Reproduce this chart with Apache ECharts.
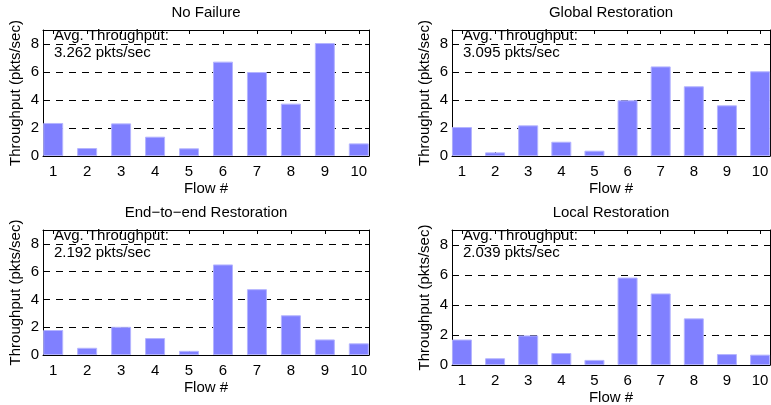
<!DOCTYPE html>
<html>
<head>
<meta charset="utf-8">
<script src="https://cdn.jsdelivr.net/npm/echarts@6/dist/echarts.min.js"></script>
<style>
  html, body { margin: 0; padding: 0; background: #fff; }
  #chart { width: 771px; height: 405px; }
</style>
</head>
<body>
<div id="chart"></div>
<script>
// Per-flow throughput (pkts/sec) under four failure-handling schemes
const flows = [1, 2, 3, 4, 5, 6, 7, 8, 9, 10];
const yTicks = [0, 2, 4, 6, 8];

const panelTitles = ['No Failure', 'Global Restoration', 'End\u2212to\u2212end Restoration', 'Local Restoration'];
const avgThroughput = ['3.262', '3.095', '2.192', '2.039'];

const noFailure      = [2.36, 0.57, 2.33, 1.38, 0.55, 6.74, 6.00, 3.74, 8.07, 0.90];
const globalRestore  = [2.07, 0.26, 2.19, 1.02, 0.38, 3.98, 6.40, 4.98, 3.62, 6.05];
const endToEnd       = [1.80, 0.52, 2.03, 1.22, 0.30, 6.52, 4.74, 2.86, 1.12, 0.84];
const localRestore   = [1.70, 0.45, 1.97, 0.80, 0.34, 5.83, 4.77, 3.11, 0.73, 0.69];

const seriesValues = [noFailure, globalRestore, endToEnd, localRestore];

// Plot-area boxes for the 2x2 layout
const boxes = [
  { left: 43,  top: 30,  width: 326, height: 126 },
  { left: 452, top: 30,  width: 318, height: 126 },
  { left: 43,  top: 230, width: 326, height: 125 },
  { left: 452, top: 230, width: 318, height: 135 }
];

const FONT = '"Liberation Sans", Arial, Helvetica, sans-serif';
const FS = 15;
const xMin = 0.7, xMax = 10.3;

const grid = [], xAxis = [], yAxis = [], series = [], graphic = [];

boxes.forEach((b, i) => {
  grid.push({ left: b.left, top: b.top, width: b.width, height: b.height,
              containLabel: false, outerBoundsMode: 'none' });

  // bottom axis with flow numbers
  xAxis.push({
    gridIndex: i, type: 'value', min: xMin, max: xMax, position: 'bottom',
    name: 'Flow #', nameLocation: 'middle', nameGap: 25,
    nameTextStyle: { fontFamily: FONT, fontSize: FS, color: '#000' },
    axisLine: { show: true, onZero: false, lineStyle: { color: '#000', width: 1 } },
    axisTick: { show: true, inside: true, length: 4, customValues: flows, lineStyle: { color: '#000' } },
    axisLabel: { customValues: flows, margin: 8, fontFamily: FONT, fontSize: FS, color: '#000' },
    splitLine: { show: false }
  });
  // top edge of the box with inward ticks
  xAxis.push({
    gridIndex: i, type: 'value', min: xMin, max: xMax, position: 'top',
    axisLine: { show: true, onZero: false, lineStyle: { color: '#000', width: 1 } },
    axisTick: { show: true, inside: true, length: 4, customValues: flows, lineStyle: { color: '#000' } },
    axisLabel: { show: false },
    splitLine: { show: false }
  });

  yAxis.push({
    gridIndex: i, type: 'value', min: 0, max: 9, interval: 2, position: 'left',
    name: 'Throughput (pkts/sec)', nameLocation: 'middle', nameGap: 20, nameRotate: 90,
    nameTextStyle: { fontFamily: FONT, fontSize: FS, color: '#000' },
    axisLine: { show: true, onZero: false, lineStyle: { color: '#000', width: 1 } },
    axisTick: { show: true, inside: true, length: 4, customValues: yTicks, lineStyle: { color: '#000' } },
    axisLabel: { customValues: yTicks, margin: 4, fontFamily: FONT, fontSize: FS, color: '#000' },
    splitLine: { show: true, lineStyle: { color: '#000', width: 1, type: [7, 6] } }
  });
  yAxis.push({
    gridIndex: i, type: 'value', min: 0, max: 9, interval: 2, position: 'right',
    axisLine: { show: true, onZero: false, lineStyle: { color: '#000', width: 1 } },
    axisTick: { show: true, inside: true, length: 4, customValues: yTicks, lineStyle: { color: '#000' } },
    axisLabel: { show: false },
    splitLine: { show: false }
  });

  series.push({
    type: 'bar',
    xAxisIndex: i * 2, yAxisIndex: i * 2,
    barWidth: 20,
    data: flows.map((f, k) => [f, seriesValues[i][k]]),
    itemStyle: { color: '#8080ff', borderColor: '#b4b4ff', borderWidth: 1 },
    silent: true
  });

  // subplot title
  graphic.push({
    type: 'text', x: b.left + b.width / 2, y: b.top - 17,
    style: { text: panelTitles[i], fontFamily: FONT, fontSize: FS, fill: '#000',
             textAlign: 'center', textVerticalAlign: 'middle' }
  });
  // average annotation
  graphic.push({
    type: 'text', x: b.left + 11, y: b.top - 2.5,
    style: { text: 'Avg. Throughput:\n' + avgThroughput[i] + ' pkts/sec',
             fontFamily: FONT, fontSize: FS, lineHeight: 17, fill: '#000',
             textAlign: 'left', textVerticalAlign: 'top' }
  });
});

const chart = echarts.init(document.getElementById('chart'), null, { renderer: 'canvas' });
chart.setOption({
  animation: false,
  backgroundColor: '#fff',
  grid, xAxis, yAxis, series, graphic
});
</script>
</body>
</html>
